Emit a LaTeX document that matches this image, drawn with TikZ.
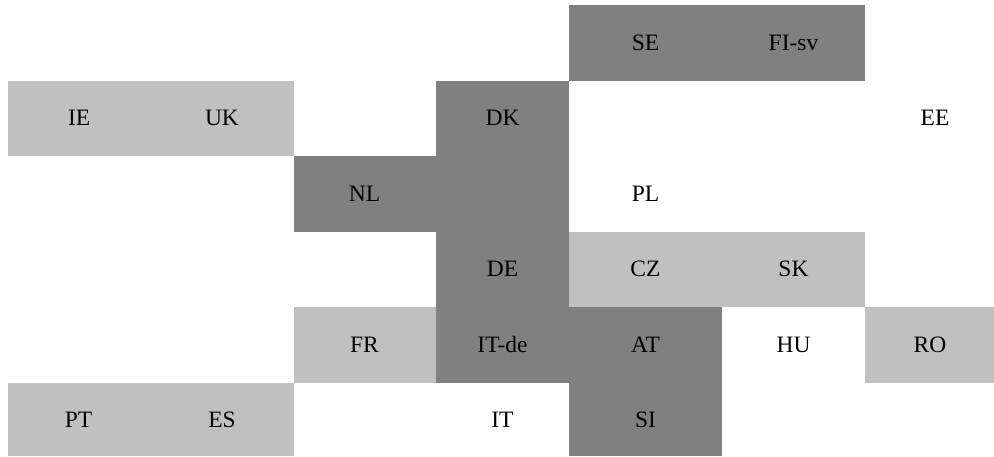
\documentclass[tikz,border=0pt]{standalone}
\usepackage{fontspec}
\setmainfont{Liberation Serif}
\definecolor{lightcell}{HTML}{C0C0C0}
\definecolor{darkcell}{HTML}{808080}
\begin{document}
\begin{tikzpicture}[x=1pt,y=-1pt,
  lbl/.style={inner sep=0pt,font=\fontsize{23.5}{27}\selectfont,text=black,anchor=center},
  lightfill/.style={fill=lightcell,draw=none},
  darkfill/.style={fill=darkcell,draw=none}]
\useasboundingbox (0,0) rectangle (994,456);
% light regions
\fill[lightfill] (8,80.5) rectangle (293.5,155.7);
\fill[lightfill] (569,231.7) rectangle (865,306.8);
\fill[lightfill] (293.5,306.8) rectangle (436,382.7);
\fill[lightfill] (865,306.8) rectangle (994,382.7);
\fill[lightfill] (8,382.7) rectangle (293.5,456);
% dark regions
\fill[darkfill] (569,5) rectangle (865,80.5);
\fill[darkfill] (436,80.5) rectangle (569,382.7);
\fill[darkfill] (293.5,155.7) rectangle (436.5,231.7);
\fill[darkfill] (568.5,306.8) rectangle (722,382.7);
\fill[darkfill] (569,382.2) rectangle (722,456);
% labels
\node[lbl] (SE) at (645.5,42.8) {SE};
\node[lbl] (FIsv) at (793.5,42.8) {FI-sv};
\node[lbl] (IE) at (79.2,118.1) {IE};
\node[lbl] (UK) at (222,118.1) {UK};
\node[lbl] (DK) at (502.5,118.1) {DK};
\node[lbl] (EE) at (935,118.1) {EE};
\node[lbl] (NL) at (364.5,193.7) {NL};
\node[lbl] (PL) at (645.5,193.7) {PL};
\node[lbl] (DE) at (502.5,269.2) {DE};
\node[lbl] (CZ) at (645.5,269.2) {CZ};
\node[lbl] (SK) at (793.5,269.2) {SK};
\node[lbl] (FR) at (364.5,344.7) {FR};
\node[lbl] (ITde) at (502.5,344.7) {IT-de};
\node[lbl] (AT) at (645.5,344.7) {AT};
\node[lbl] (HU) at (793.5,344.7) {HU};
\node[lbl] (RO) at (930,344.7) {RO};
\node[lbl] (PT) at (78.5,419.4) {PT};
\node[lbl] (ES) at (222,419.4) {ES};
\node[lbl] (IT) at (502.5,419.4) {IT};
\node[lbl] (SI) at (645.5,419.4) {SI};
\end{tikzpicture}
\end{document}
